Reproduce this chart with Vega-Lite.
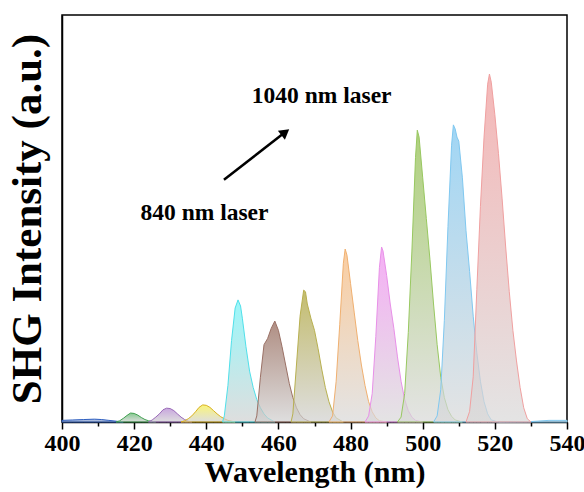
{
"$schema": "https://vega.github.io/schema/vega-lite/v6.json",
"width": 505, "height": 407,
"autosize": {"type": "none"},
"padding": {"left": 62, "top": 15, "right": 17, "bottom": 70},
"background": "white",
"config": {"view": {"stroke": "black", "strokeWidth": 1.5}, "font": "Liberation Serif"},
"data": {"values": [
{"s":"b0","x":400,"y":4},{"s":"b0","x":403,"y":5},{"s":"b0","x":406,"y":6},{"s":"b0","x":409,"y":7},{"s":"b0","x":411,"y":6},{"s":"b0","x":413,"y":4},{"s":"b0","x":415,"y":2},{"s":"b0","x":417,"y":0},
{"s":"g1","x":415,"y":0},{"s":"g1","x":416,"y":3},{"s":"g1","x":417,"y":9},{"s":"g1","x":418,"y":16},{"s":"g1","x":419,"y":22},{"s":"g1","x":420,"y":21},{"s":"g1","x":421,"y":17},{"s":"g1","x":422,"y":11},{"s":"g1","x":423,"y":6},{"s":"g1","x":424,"y":3},{"s":"g1","x":426,"y":0},
{"s":"p2","x":424,"y":0},{"s":"p2","x":425,"y":5},{"s":"p2","x":426,"y":12},{"s":"p2","x":427,"y":20},{"s":"p2","x":428,"y":30},{"s":"p2","x":429,"y":34},{"s":"p2","x":430,"y":33},{"s":"p2","x":431,"y":28},{"s":"p2","x":432,"y":20},{"s":"p2","x":433,"y":12},{"s":"p2","x":434,"y":6},{"s":"p2","x":435,"y":2},{"s":"p2","x":436,"y":0},
{"s":"y3","x":433,"y":0},{"s":"y3","x":434,"y":3},{"s":"y3","x":435,"y":8},{"s":"y3","x":436,"y":15},{"s":"y3","x":437,"y":25},{"s":"y3","x":438,"y":36},{"s":"y3","x":439,"y":42},{"s":"y3","x":440,"y":41},{"s":"y3","x":441,"y":36},{"s":"y3","x":442,"y":28},{"s":"y3","x":443,"y":20},{"s":"y3","x":444,"y":13},{"s":"y3","x":445,"y":8},{"s":"y3","x":446,"y":4},{"s":"y3","x":448,"y":0},
{"s":"c4","x":444.5,"y":0},{"s":"c4","x":445,"y":15},{"s":"c4","x":446,"y":90},{"s":"c4","x":447,"y":200},{"s":"c4","x":448,"y":280},{"s":"c4","x":448.8,"y":300},{"s":"c4","x":449.5,"y":285},{"s":"c4","x":450,"y":255},{"s":"c4","x":451,"y":185},{"s":"c4","x":452,"y":125},{"s":"c4","x":453,"y":85},{"s":"c4","x":454,"y":55},{"s":"c4","x":455,"y":35},{"s":"c4","x":456,"y":20},{"s":"c4","x":457,"y":10},{"s":"c4","x":459,"y":0},
{"s":"br5","x":453.5,"y":0},{"s":"br5","x":454,"y":15},{"s":"br5","x":455,"y":110},{"s":"br5","x":456,"y":190},{"s":"br5","x":457,"y":205},{"s":"br5","x":458,"y":230},{"s":"br5","x":459,"y":248},{"s":"br5","x":460,"y":225},{"s":"br5","x":461,"y":185},{"s":"br5","x":462,"y":140},{"s":"br5","x":463,"y":95},{"s":"br5","x":464,"y":60},{"s":"br5","x":465,"y":35},{"s":"br5","x":466,"y":18},{"s":"br5","x":467,"y":8},{"s":"br5","x":469,"y":0},
{"s":"o6","x":463.5,"y":0},{"s":"o6","x":464,"y":20},{"s":"o6","x":465,"y":140},{"s":"o6","x":466,"y":260},{"s":"o6","x":467,"y":324},{"s":"o6","x":467.5,"y":320},{"s":"o6","x":468,"y":290},{"s":"o6","x":469,"y":255},{"s":"o6","x":470,"y":225},{"s":"o6","x":471,"y":180},{"s":"o6","x":472,"y":130},{"s":"o6","x":473,"y":85},{"s":"o6","x":474,"y":50},{"s":"o6","x":475,"y":25},{"s":"o6","x":476,"y":10},{"s":"o6","x":478,"y":0},
{"s":"or7","x":474,"y":0},{"s":"or7","x":475,"y":15},{"s":"or7","x":476,"y":100},{"s":"or7","x":477,"y":240},{"s":"or7","x":478,"y":390},{"s":"or7","x":478.5,"y":425},{"s":"or7","x":479,"y":410},{"s":"or7","x":480,"y":340},{"s":"or7","x":481,"y":270},{"s":"or7","x":482,"y":200},{"s":"or7","x":483,"y":140},{"s":"or7","x":484,"y":90},{"s":"or7","x":485,"y":50},{"s":"or7","x":486,"y":25},{"s":"or7","x":487,"y":10},{"s":"or7","x":488,"y":3},{"s":"or7","x":490,"y":0},
{"s":"m8","x":484,"y":0},{"s":"m8","x":485,"y":15},{"s":"m8","x":486,"y":70},{"s":"m8","x":487,"y":210},{"s":"m8","x":488,"y":380},{"s":"m8","x":488.6,"y":430},{"s":"m8","x":489,"y":420},{"s":"m8","x":490,"y":360},{"s":"m8","x":491,"y":290},{"s":"m8","x":492,"y":230},{"s":"m8","x":493,"y":160},{"s":"m8","x":494,"y":100},{"s":"m8","x":495,"y":55},{"s":"m8","x":496,"y":28},{"s":"m8","x":497,"y":12},{"s":"m8","x":498,"y":4},{"s":"m8","x":500,"y":0},
{"s":"g9","x":493,"y":0},{"s":"g9","x":494,"y":12},{"s":"g9","x":495,"y":70},{"s":"g9","x":496,"y":220},{"s":"g9","x":497,"y":420},{"s":"g9","x":498,"y":650},{"s":"g9","x":498.5,"y":717},{"s":"g9","x":499,"y":700},{"s":"g9","x":500,"y":600},{"s":"g9","x":501,"y":500},{"s":"g9","x":502,"y":400},{"s":"g9","x":503,"y":290},{"s":"g9","x":504,"y":190},{"s":"g9","x":505,"y":110},{"s":"g9","x":506,"y":60},{"s":"g9","x":507,"y":30},{"s":"g9","x":508,"y":14},{"s":"g9","x":509,"y":5},{"s":"g9","x":511,"y":0},
{"s":"bl10","x":503,"y":0},{"s":"bl10","x":504,"y":15},{"s":"bl10","x":505,"y":80},{"s":"bl10","x":506,"y":250},{"s":"bl10","x":507,"y":480},{"s":"bl10","x":508,"y":680},{"s":"bl10","x":508.5,"y":730},{"s":"bl10","x":509,"y":720},{"s":"bl10","x":509.5,"y":700},{"s":"bl10","x":510,"y":690},{"s":"bl10","x":511,"y":600},{"s":"bl10","x":512,"y":470},{"s":"bl10","x":513,"y":370},{"s":"bl10","x":514,"y":260},{"s":"bl10","x":515,"y":170},{"s":"bl10","x":516,"y":100},{"s":"bl10","x":517,"y":50},{"s":"bl10","x":518,"y":20},{"s":"bl10","x":519,"y":5},{"s":"bl10","x":521,"y":0},{"s":"bl10","x":530,"y":1},{"s":"bl10","x":535,"y":4},{"s":"bl10","x":540,"y":4},
{"s":"r11","x":512,"y":0},{"s":"r11","x":513,"y":26},{"s":"r11","x":514,"y":111},{"s":"r11","x":515,"y":325},{"s":"r11","x":516,"y":530},{"s":"r11","x":517,"y":700},{"s":"r11","x":518,"y":830},{"s":"r11","x":518.5,"y":855},{"s":"r11","x":519,"y":835},{"s":"r11","x":520,"y":755},{"s":"r11","x":521,"y":660},{"s":"r11","x":522,"y":550},{"s":"r11","x":523,"y":430},{"s":"r11","x":524,"y":320},{"s":"r11","x":525,"y":225},{"s":"r11","x":526,"y":150},{"s":"r11","x":527,"y":85},{"s":"r11","x":528,"y":35},{"s":"r11","x":529,"y":8},{"s":"r11","x":530,"y":0}
]},
"encoding": {
  "x": {"field": "x", "type": "quantitative", "scale": {"domain": [400, 540], "nice": false, "zero": false},
        "axis": {"values": [400,410,420,430,440,450,460,470,480,490,500,510,520,530,540],
                 "labelExpr": "datum.value % 20 === 0 ? datum.label : ''",
                 "tickSize": {"condition": {"test": "datum.value % 20 === 0", "value": 7}, "value": 4},
                 "tickWidth": 1.5, "tickColor": "black", "domainColor": "black", "domainWidth": 1.5,
                 "grid": false, "labelFont": "Liberation Serif", "labelFontSize": 24, "labelFontWeight": "bold",
                 "labelColor": "black", "labelPadding": 2, "labelFlush": false,
                 "title": "Wavelength (nm)", "titleFont": "Liberation Serif", "titleFontSize": 30,
                 "titleFontWeight": "bold", "titleColor": "black", "titlePadding": 2}},
  "y": {"field": "y", "type": "quantitative", "scale": {"domain": [0, 1000], "nice": false},
        "axis": {"labels": false, "ticks": false, "grid": false, "domainColor": "black", "domainWidth": 1.5,
                 "title": "SHG Intensity (a.u.)", "titleFont": "Liberation Serif", "titleFontSize": 43,
                 "titleFontWeight": "bold", "titleColor": "black", "titlePadding": 13}}
},
"layer": [
{"transform":[{"filter":"datum.s==='b0'"}],"mark":{"type":"area","fillOpacity":0.7,"stroke":"#3060c0","strokeWidth":1,"fill":{"gradient":"linear","x1":0,"y1":0,"x2":0,"y2":1,"stops":[{"offset":0,"color":"#4070d0"},{"offset":1,"color":"#d0d0d0"}]}}},
{"transform":[{"filter":"datum.s==='g1'"}],"mark":{"type":"area","fillOpacity":0.7,"stroke":"#40a050","strokeWidth":1,"fill":{"gradient":"linear","x1":0,"y1":0,"x2":0,"y2":1,"stops":[{"offset":0,"color":"#50b060"},{"offset":1,"color":"#d0d0d0"}]}}},
{"transform":[{"filter":"datum.s==='p2'"}],"mark":{"type":"area","fillOpacity":0.7,"stroke":"#9a6ab8","strokeWidth":1,"fill":{"gradient":"linear","x1":0,"y1":0,"x2":0,"y2":1,"stops":[{"offset":0,"color":"#b080d0"},{"offset":1,"color":"#d0d0d0"}]}}},
{"transform":[{"filter":"datum.s==='y3'"}],"mark":{"type":"area","fillOpacity":0.7,"stroke":"#d8b020","strokeWidth":1,"fill":{"gradient":"linear","x1":0,"y1":0,"x2":0,"y2":1,"stops":[{"offset":0,"color":"#f8f040"},{"offset":1,"color":"#d0d0d0"}]}}},
{"transform":[{"filter":"datum.s==='c4'"}],"mark":{"type":"area","fillOpacity":0.7,"stroke":"#50e0ea","strokeWidth":1,"fill":{"gradient":"linear","x1":0,"y1":0,"x2":0,"y2":1,"stops":[{"offset":0,"color":"#70f4f8"},{"offset":1,"color":"#d0d0d0"}]}}},
{"transform":[{"filter":"datum.s==='br5'"}],"mark":{"type":"area","fillOpacity":0.7,"stroke":"#9a7065","strokeWidth":1,"fill":{"gradient":"linear","x1":0,"y1":0,"x2":0,"y2":1,"stops":[{"offset":0,"color":"#8e5e4e"},{"offset":1,"color":"#d0d0d0"}]}}},
{"transform":[{"filter":"datum.s==='o6'"}],"mark":{"type":"area","fillOpacity":0.7,"stroke":"#b8b050","strokeWidth":1,"fill":{"gradient":"linear","x1":0,"y1":0,"x2":0,"y2":1,"stops":[{"offset":0,"color":"#aaa030"},{"offset":1,"color":"#d0d0d0"}]}}},
{"transform":[{"filter":"datum.s==='or7'"}],"mark":{"type":"area","fillOpacity":0.7,"stroke":"#f0b070","strokeWidth":1,"fill":{"gradient":"linear","x1":0,"y1":0,"x2":0,"y2":1,"stops":[{"offset":0,"color":"#f8b878"},{"offset":1,"color":"#d8d8d8"}]}}},
{"transform":[{"filter":"datum.s==='m8'"}],"mark":{"type":"area","fillOpacity":0.7,"stroke":"#e890e8","strokeWidth":1,"fill":{"gradient":"linear","x1":0,"y1":0,"x2":0,"y2":1,"stops":[{"offset":0,"color":"#f08cf0"},{"offset":1,"color":"#d8d8d8"}]}}},
{"transform":[{"filter":"datum.s==='g9'"}],"mark":{"type":"area","fillOpacity":0.7,"stroke":"#98c860","strokeWidth":1,"fill":{"gradient":"linear","x1":0,"y1":0,"x2":0,"y2":1,"stops":[{"offset":0,"color":"#8cbc44"},{"offset":1,"color":"#d8d8d8"}]}}},
{"transform":[{"filter":"datum.s==='bl10'"}],"mark":{"type":"area","fillOpacity":0.7,"stroke":"#80c8f0","strokeWidth":1,"fill":{"gradient":"linear","x1":0,"y1":0,"x2":0,"y2":1,"stops":[{"offset":0,"color":"#78c4f0"},{"offset":1,"color":"#d8d8d8"}]}}},
{"transform":[{"filter":"datum.s==='r11'"}],"mark":{"type":"area","fillOpacity":0.7,"stroke":"#f0a0a0","strokeWidth":1,"fill":{"gradient":"linear","x1":0,"y1":0,"x2":0,"y2":1,"stops":[{"offset":0,"color":"#f09898"},{"offset":1,"color":"#d8d8d8"}]}}},
{"data": {"values": [{"x": 444.9, "y": 595, "x2": 462.0, "y2": 713}]},
 "mark": {"type": "rule", "color": "black", "strokeWidth": 2.5},
 "encoding": {"x": {"field": "x", "type": "quantitative"}, "y": {"field": "y", "type": "quantitative"}, "x2": {"field": "x2"}, "y2": {"field": "y2"}}},
{"data": {"values": [{"x": 461.9, "y": 712}]},
 "mark": {"type": "point", "shape": "triangle-up", "filled": true, "color": "black", "opacity": 1, "size": 130, "angle": 52},
 "encoding": {"x": {"field": "x", "type": "quantitative"}, "y": {"field": "y", "type": "quantitative"}}},
{"data": {"values": [{"x": 472, "y": 800, "t": "1040 nm laser"}, {"x": 439.5, "y": 513, "t": "840 nm laser"}]},
 "mark": {"type": "text", "font": "Liberation Serif", "fontSize": 23.5, "fontWeight": "bold", "color": "black", "align": "center", "baseline": "middle"},
 "encoding": {"x": {"field": "x", "type": "quantitative"}, "y": {"field": "y", "type": "quantitative"}, "text": {"field": "t"}}}
]
}
